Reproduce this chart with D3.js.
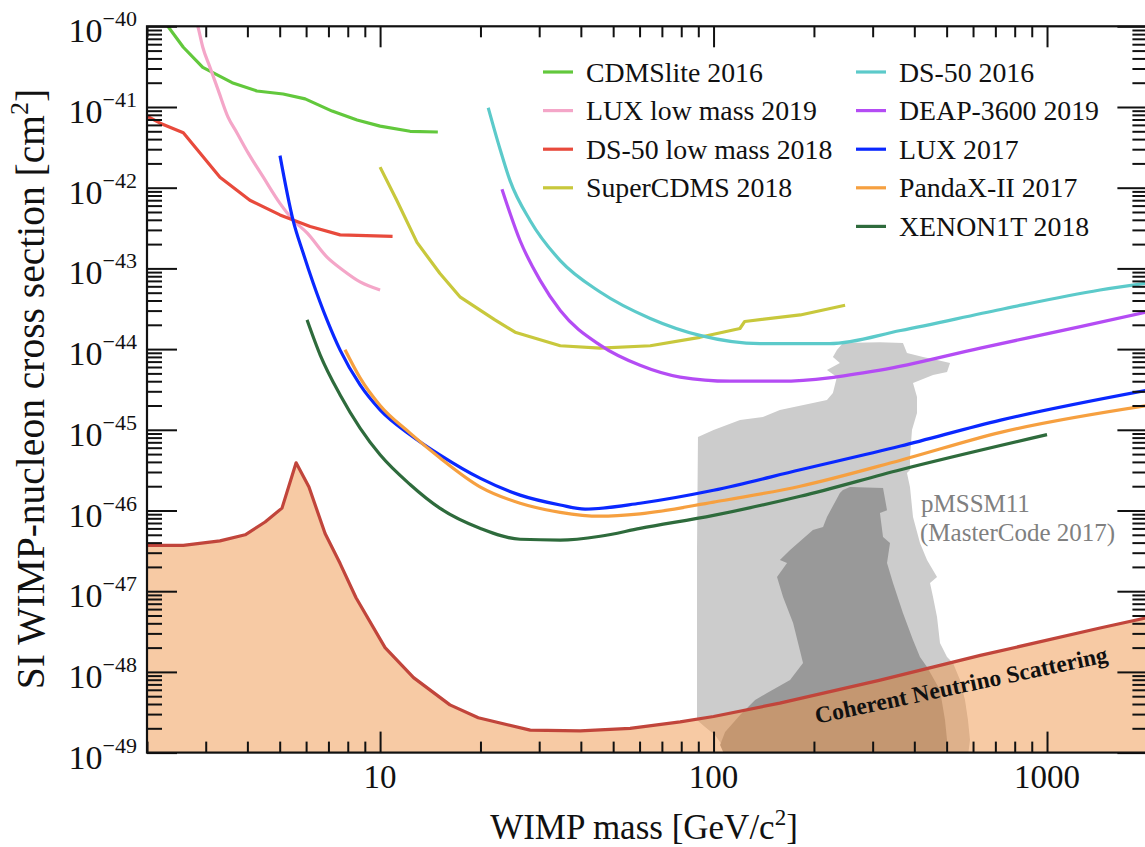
<!DOCTYPE html>
<html>
<head>
<meta charset="utf-8">
<script src="https://cdn.jsdelivr.net/npm/d3@7"></script>
<style>
  html, body { margin: 0; padding: 0; background: #ffffff; }
  svg { display: block; font-family: "Liberation Serif", "Times New Roman", serif; }
</style>
</head>
<body>
<svg id="chart" width="1145" height="847"></svg>
<script>
// ---- Exclusion limits: [WIMP mass (GeV/c^2), SI cross section (cm^2)] ----
const cdmsLite2016 = [[2.2,1.3e-40],[2.31,1.0e-40],[2.57,5.5e-41],[2.94,3.1e-41],[3.6,2.0e-41],[4.27,1.58e-41],[5.12,1.45e-41],[5.96,1.26e-41],[7.18,8.9e-42],[8.53,6.9e-42],[10,5.8e-42],[12.3,5.0e-42],[14.9,4.9e-42]];
const luxLowMass2019 = [[2.8,1.25e-40],[2.85,9.5e-41],[2.94,5.5e-41],[3.09,3.1e-41],[3.27,1.62e-41],[3.5,7.5e-42],[3.72,4.8e-42],[4.02,2.7e-42],[4.46,1.36e-42],[5.01,6.4e-43],[5.48,4.0e-43],[6.04,2.75e-43],[6.93,1.38e-43],[7.74,9.5e-44],[8.71,6.8e-44],[10,5.4e-44]];
const ds50LowMass2018 = [[2.0,7.7e-42],[2.19,6.3e-42],[2.57,4.8e-42],[3.31,1.35e-42],[4.07,7.0e-43],[5.01,4.6e-43],[6.17,3.3e-43],[7.59,2.6e-43],[10.9,2.5e-43]];
const superCdms2018 = [[10,1.8e-42],[11.2,7.1e-43],[12.9,2.1e-43],[15.1,8.7e-44],[17.4,4.4e-44],[22.1,2.3e-44],[25.4,1.62e-44],[34.7,1.1e-44],[45.7,1.03e-44],[64.6,1.1e-44],[91,1.4e-44],[120,1.8e-44],[124,2.2e-44],[182,2.65e-44],[248,3.5e-44]];
const ds502016 = [[21.1,9.8e-42],[22.9,3.0e-42],[24.5,1.24e-42],[28.2,3.9e-43],[34.7,1.25e-43],[45.7,5.1e-44],[64.6,2.4e-44],[91,1.48e-44],[138,1.17e-44],[223,1.17e-44],[364,1.7e-44],[726,3.1e-44],[1442,5.4e-44],[2000,6.6e-44]];
const deap3600_2019 = [[23.2,9.6e-43],[26.3,2.2e-43],[30.2,7.1e-44],[34.7,3.0e-44],[45.7,1.12e-44],[60.2,6.3e-45],[79.4,4.5e-45],[112,4.0e-45],[158,4.0e-45],[316,5.5e-45],[631,1.03e-44],[1259,1.9e-44],[2000,2.9e-44]];
const lux2017 = [[5.01,2.5e-42],[5.48,4.0e-43],[5.88,1.55e-43],[6.3,6.6e-44],[6.93,2.3e-44],[7.59,9.7e-45],[8.71,3.6e-45],[10,1.77e-45],[12.3,8.7e-46],[15.1,4.9e-46],[20,2.5e-46],[26.3,1.55e-46],[34.7,1.17e-46],[41.2,1.04e-46],[60.2,1.23e-46],[100,1.78e-46],[182,3.2e-46],[364,6.3e-46],[726,1.32e-45],[2000,3.1e-45]];
const pandaX2017 = [[7.85,9.8e-45],[8.71,4.4e-45],[10,2.0e-45],[12.3,9.1e-46],[15.1,4.5e-46],[20,1.95e-46],[26.3,1.23e-46],[34.7,9.5e-47],[45.7,8.5e-47],[60.2,9.1e-47],[100,1.27e-46],[182,2.0e-46],[364,4.2e-46],[726,9.3e-46],[2000,2.0e-45]];
const xenon1T2018 = [[6.04,2.3e-44],[6.61,8.5e-45],[7.59,2.7e-45],[8.71,1.05e-45],[10,4.9e-46],[12.3,2.1e-46],[15.1,1.07e-46],[20,6.0e-47],[26.3,4.4e-47],[34.7,4.3e-47],[45.7,4.8e-47],[60.2,6.0e-47],[100,8.7e-47],[182,1.5e-46],[364,3.2e-46],[1000,8.7e-46]];

// ---- Coherent neutrino scattering floor ----
const neutrinoFloor = [[2.0,3.7e-47],[2.57,3.7e-47],[3.31,4.2e-47],[3.94,5.0e-47],[4.52,7.2e-47],[5.08,1.07e-46],[5.6,3.9e-46],[6.12,1.95e-46],[6.84,5.2e-47],[7.59,2.2e-47],[8.47,8.3e-48],[10.35,2.0e-48],[12.6,8.5e-49],[16.2,3.9e-49],[19.7,2.7e-49],[28.2,1.9e-49],[39.8,1.86e-49],[56.2,2.0e-49],[79.4,2.4e-49],[100,2.8e-49],[158,4.1e-49],[316,7.9e-49],[631,1.6e-48],[1442,3.5e-48],[2000,4.7e-48]];

// ---- pMSSM11 (MasterCode 2017) preferred regions ----
const pmssmOuter = [[234.4,9.75e-45],[244.3,1.19e-44],[315.5,1.22e-44],[369.8,1.19e-44],[380.2,8.95e-45],[424.8,7.98e-45],[467.9,7.33e-45],[511.9,6.73e-45],[501.4,5.2e-45],[455.2,4.77e-45],[396.4,3.8e-45],[407.5,2.55e-45],[407.5,1.61e-45],[393.6,9.93e-46],[388.2,4.6e-46],[388.2,3.18e-46],[380.2,2.91e-46],[388.2,1.95e-46],[396.4,8.3e-47],[416,3.95e-47],[436.7,2.43e-47],[467.9,1.5e-47],[445.8,1.26e-47],[455.2,8.48e-48],[467.9,4.79e-48],[477.6,2.28e-48],[501.4,1.53e-48],[522.5,1.29e-48],[548.4,7.93e-49],[567.6,4.48e-49],[579.4,2.53e-49],[587.5,1.43e-49],[579.4,9e-50],[108.3,9e-50],[106.1,1.24e-49],[101,1.65e-49],[94.3,2.07e-49],[89.2,2.53e-49],[89.2,3.24e-47],[89.8,8.13e-46],[100,9.93e-46],[120.1,1.32e-45],[140.6,1.44e-45],[158.1,1.76e-45],[198.6,2.15e-45],[218.8,2.34e-45],[228,2.86e-45],[234.4,4.51e-45],[218.8,5.51e-45],[239.3,6.73e-45],[228,7.98e-45]];
const pmssmInner = [[244.3,1.79e-46],[256.6,1.95e-46],[322.3,1.9e-46],[331.3,1.01e-46],[315.5,9.31e-47],[322.3,4.69e-47],[338.2,3.95e-47],[331.3,2.23e-47],[345.3,1.26e-47],[369.8,5.37e-48],[396.4,2.48e-48],[416,1.53e-48],[436.7,1.15e-48],[477.6,5.96e-49],[494.4,2.53e-49],[501.4,1.43e-49],[494.4,9e-50],[108.3,9e-50],[104.6,1.24e-49],[108.3,1.8e-49],[120.1,2.92e-49],[133.2,4.48e-49],[144.7,5.47e-49],[169.6,7.93e-49],[185.5,1.29e-48],[173.2,4.04e-48],[161.6,8.48e-48],[155,1.5e-47],[166.1,2.23e-47],[158.1,2.43e-47],[169.6,3.24e-47],[198.6,5.73e-47],[213,6.24e-47],[218.8,8.3e-47],[239.3,1.65e-46]];

// ---- Axis ticks ----
const massMajorTicks = [10, 100, 1000];
const massMinorTicks = [2,3,4,5,6,7,8,9,20,30,40,50,60,70,80,90,200,300,400,500,600,700,800,900,2000];
const xsecExponents = [-40,-41,-42,-43,-44,-45,-46,-47,-48,-49];

const legendLeft = ["CDMSlite 2016", "LUX low mass 2019", "DS-50 low mass 2018", "SuperCDMS 2018"];
const legendRight = ["DS-50 2016", "DEAP-3600 2019", "LUX 2017", "PandaX-II 2017", "XENON1T 2018"];

const series = [
  { name: "CDMSlite 2016", data: cdmsLite2016, color: "#62c83c", curve: d3.curveLinear },
  { name: "LUX low mass 2019", data: luxLowMass2019, color: "#f4a6c8", curve: d3.curveMonotoneX },
  { name: "DS-50 low mass 2018", data: ds50LowMass2018, color: "#e84a3c", curve: d3.curveLinear },
  { name: "SuperCDMS 2018", data: superCdms2018, color: "#c8c83c", curve: d3.curveLinear },
  { name: "DS-50 2016", data: ds502016, color: "#5ccaca", curve: d3.curveMonotoneX },
  { name: "DEAP-3600 2019", data: deap3600_2019, color: "#b44cf4", curve: d3.curveMonotoneX },
  { name: "LUX 2017", data: lux2017, color: "#0a28ff", curve: d3.curveMonotoneX },
  { name: "PandaX-II 2017", data: pandaX2017, color: "#f6a040", curve: d3.curveMonotoneX },
  { name: "XENON1T 2018", data: xenon1T2018, color: "#2e6b3c", curve: d3.curveMonotoneX }
];
const colorOf = Object.fromEntries(series.map(s => [s.name, s.color]));

// ---- Layout ----
const frame = { left: 147, right: 1147.4, top: 26.3, bottom: 752.6 };
const x = d3.scaleLog().domain([2, 2000]).range([frame.left, frame.right]);
const y = d3.scaleLog().domain([1e-49, 1e-40]).range([frame.bottom, frame.top]);

const svg = d3.select("#chart");

svg.append("defs").append("clipPath").attr("id", "plot-clip")
  .append("rect")
  .attr("x", frame.left).attr("y", frame.top)
  .attr("width", frame.right - frame.left).attr("height", frame.bottom - frame.top);

const plot = svg.append("g").attr("clip-path", "url(#plot-clip)");

// pMSSM11 regions
const region = d3.line().x(d => x(d[0])).y(d => y(d[1]));
plot.append("path").attr("d", region(pmssmOuter) + "Z").attr("fill", "#cccccc");
plot.append("path").attr("d", region(pmssmInner) + "Z").attr("fill", "#999999");

// Neutrino floor: translucent fill below the boundary line
const floorArea = d3.area().x(d => x(d[0])).y0(frame.bottom + 5).y1(d => y(d[1]));
plot.append("path").attr("d", floorArea(neutrinoFloor))
  .attr("fill", "#ef9549").attr("fill-opacity", 0.5);
plot.append("path").attr("d", region(neutrinoFloor))
  .attr("fill", "none").attr("stroke", "#c1453b").attr("stroke-width", 3.2)
  .attr("stroke-linejoin", "round");

// Experimental limits
series.forEach(s => {
  const line = d3.line().x(d => x(d[0])).y(d => y(d[1])).curve(s.curve);
  plot.append("path").attr("d", line(s.data))
    .attr("fill", "none").attr("stroke", s.color).attr("stroke-width", 3.2)
    .attr("stroke-linejoin", "round");
});

// ---- Axes (ticks pointing inward on all four sides) ----
const yMajor = xsecExponents.map(e => Math.pow(10, e));
const yMinor = [];
xsecExponents.slice(1).forEach(e => { for (let k = 2; k <= 9; k++) yMinor.push(k * Math.pow(10, e)); });

function styleAxis(g) {
  g.select(".domain").remove();
  g.selectAll(".tick line").attr("stroke", "#111").attr("stroke-width", 2);
  g.selectAll(".tick text").remove();
}
const fmtNone = () => "";
svg.append("g").attr("transform", `translate(0,${frame.bottom})`)
  .call(d3.axisBottom(x).tickValues(massMajorTicks).tickSizeInner(-21).tickSizeOuter(0).tickFormat(fmtNone)).call(styleAxis);
svg.append("g").attr("transform", `translate(0,${frame.bottom})`)
  .call(d3.axisBottom(x).tickValues(massMinorTicks).tickSizeInner(-11).tickSizeOuter(0).tickFormat(fmtNone)).call(styleAxis);
svg.append("g").attr("transform", `translate(0,${frame.top})`)
  .call(d3.axisTop(x).tickValues(massMajorTicks).tickSizeInner(-21).tickSizeOuter(0).tickFormat(fmtNone)).call(styleAxis);
svg.append("g").attr("transform", `translate(0,${frame.top})`)
  .call(d3.axisTop(x).tickValues(massMinorTicks).tickSizeInner(-11).tickSizeOuter(0).tickFormat(fmtNone)).call(styleAxis);
svg.append("g").attr("transform", `translate(${frame.left},0)`)
  .call(d3.axisLeft(y).tickValues(yMajor).tickSizeInner(-30).tickSizeOuter(0).tickFormat(fmtNone)).call(styleAxis);
svg.append("g").attr("transform", `translate(${frame.left},0)`)
  .call(d3.axisLeft(y).tickValues(yMinor).tickSizeInner(-15).tickSizeOuter(0).tickFormat(fmtNone)).call(styleAxis);
svg.append("g").attr("transform", `translate(${frame.right},0)`)
  .call(d3.axisRight(y).tickValues(yMajor).tickSizeInner(-30).tickSizeOuter(0).tickFormat(fmtNone)).call(styleAxis);
svg.append("g").attr("transform", `translate(${frame.right},0)`)
  .call(d3.axisRight(y).tickValues(yMinor).tickSizeInner(-15).tickSizeOuter(0).tickFormat(fmtNone)).call(styleAxis);

// Frame
svg.append("rect")
  .attr("x", frame.left).attr("y", frame.top)
  .attr("width", frame.right - frame.left).attr("height", frame.bottom - frame.top)
  .attr("fill", "none").attr("stroke", "#111").attr("stroke-width", 2.2);

// Tick labels
svg.append("g").selectAll("text").data(massMajorTicks).join("text")
  .attr("x", d => x(d)).attr("y", 788)
  .attr("text-anchor", "middle").attr("font-size", 33).attr("fill", "#111")
  .text(d => String(d));

const yl = svg.append("g").selectAll("text").data(xsecExponents).join("text")
  .attr("x", 137).attr("y", d => y(Math.pow(10, d)) + 16)
  .attr("text-anchor", "end").attr("font-size", 34).attr("fill", "#111");
yl.append("tspan").text("10");
yl.append("tspan").attr("dy", -16).attr("font-size", 22).text(d => "\u2212" + Math.abs(d));

// Axis titles
const xt = svg.append("text").attr("x", 644).attr("y", 839)
  .attr("text-anchor", "middle").attr("font-size", 35).attr("fill", "#111");
xt.append("tspan").text("WIMP mass [GeV/c");
xt.append("tspan").attr("dy", -14).attr("font-size", 23).text("2");
xt.append("tspan").attr("dy", 14).text("]");

const ytl = svg.append("text").attr("transform", "translate(44,389) rotate(-90)")
  .attr("text-anchor", "middle").attr("font-size", 39.5).attr("fill", "#111");
ytl.append("tspan").text("SI WIMP-nucleon cross section [cm");
ytl.append("tspan").attr("dy", -16).attr("font-size", 26).text("2");
ytl.append("tspan").attr("dy", 16).text("]");

// Legend (two columns)
function legendColumn(names, lineX, textX) {
  const g = svg.append("g");
  names.forEach((n, i) => {
    const cy = 72 + i * 38.6;
    g.append("line").attr("x1", lineX).attr("x2", lineX + 30).attr("y1", cy).attr("y2", cy)
      .attr("stroke", colorOf[n]).attr("stroke-width", 3.2);
    g.append("text").attr("x", textX).attr("y", cy + 9.5)
      .attr("font-size", 27.8).attr("fill", "#111").text(n);
  });
}
legendColumn(legendLeft, 543, 586);
legendColumn(legendRight, 856, 899);

// Annotations
svg.append("text").attr("x", 921).attr("y", 512).attr("font-size", 25).attr("fill", "#808080").text("pMSSM11");
svg.append("text").attr("x", 920).attr("y", 541).attr("font-size", 25).attr("fill", "#808080").text("(MasterCode 2017)");

const a0 = [x(200), y(3.6e-49)], a1 = [x(1500), y(2.1e-48)];
const ang = Math.atan2(a1[1] - a0[1], a1[0] - a0[0]) * 180 / Math.PI;
svg.append("text")
  .attr("transform", `translate(${(a0[0] + a1[0]) / 2 + 3},${(a0[1] + a1[1]) / 2 + 16}) rotate(${ang})`)
  .attr("text-anchor", "middle").attr("font-size", 23.5).attr("font-weight", "bold").attr("fill", "#111")
  .text("Coherent Neutrino Scattering");
</script>
</body>
</html>
